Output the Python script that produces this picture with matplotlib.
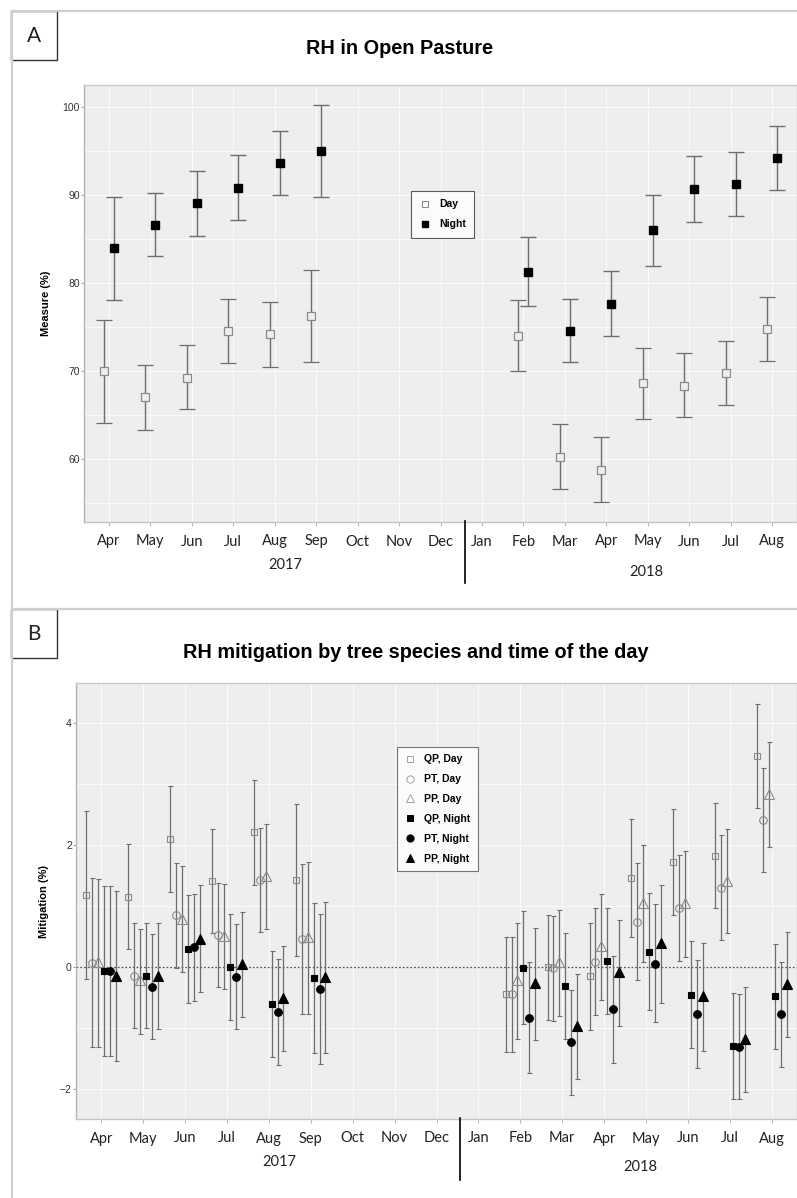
import numpy as np
import matplotlib
matplotlib.use("Agg")
import matplotlib.pyplot as plt
from matplotlib.lines import Line2D
from matplotlib.patches import Rectangle

nan = np.nan
W, H = 797, 1198

months = ["Apr", "May", "Jun", "Jul", "Aug", "Sep", "Oct", "Nov", "Dec",
          "Jan", "Feb", "Mar", "Apr", "May", "Jun", "Jul", "Aug"]
years = ["2017", "2018"]

# ---------------- Panel A: RH in open pasture ----------------
day_mean = [70.0, 67.0, 69.2, 74.5, 74.2, 76.25, nan, nan, nan, nan, 74.0, 60.2, 58.75, 68.6, 68.3, 69.7, 74.8]
day_low = [64.1, 63.3, 65.6, 70.9, 70.45, 71.0, nan, nan, nan, nan, 70.0, 56.6, 55.1, 64.5, 64.7, 66.1, 71.1]
day_high = [75.8, 70.6, 72.95, 78.2, 77.8, 81.5, nan, nan, nan, nan, 78.0, 63.9, 62.5, 72.6, 72.0, 73.4, 78.4]
night_mean = [84.0, 86.6, 89.1, 90.8, 93.6, 95.0, nan, nan, nan, nan, 81.25, 74.5, 77.6, 86.0, 90.7, 91.25, 94.2]
night_low = [78.1, 83.0, 85.3, 87.2, 90.0, 89.8, nan, nan, nan, nan, 77.4, 71.0, 74.0, 81.9, 86.9, 87.6, 90.6]
night_high = [89.8, 90.2, 92.7, 94.5, 97.3, 100.2, nan, nan, nan, nan, 85.2, 78.2, 81.4, 90.0, 94.4, 94.9, 97.8]

# ---------------- Panel B: mitigation ----------------
b_labels = ["QP, Day", "PT, Day", "PP, Day", "QP, Night", "PT, Night", "PP, Night"]
N4 = [nan] * 4
qp_day_mean = [1.18, 1.15, 2.1, 1.41, 2.21, 1.43] + N4 + [-0.44, 0.0, -0.15, 1.46, 1.72, 1.82, 3.46]
qp_day_low = [-0.2, 0.3, 1.23, 0.56, 1.34, 0.18] + N4 + [-1.39, -0.87, -1.03, 0.5, 0.85, 0.97, 2.61]
qp_day_high = [2.56, 2.02, 2.97, 2.26, 3.07, 2.67] + N4 + [0.49, 0.85, 0.72, 2.43, 2.59, 2.69, 4.31]
pt_day_mean = [0.07, -0.15, 0.85, 0.52, 1.43, 0.46] + N4 + [-0.44, -0.02, 0.09, 0.74, 0.97, 1.3, 2.41]
pt_day_low = [-1.31, -1.0, -0.02, -0.33, 0.57, -0.77] + N4 + [-1.39, -0.89, -0.79, -0.21, 0.1, 0.44, 1.56]
pt_day_high = [1.46, 0.72, 1.7, 1.38, 2.29, 1.69] + N4 + [0.5, 0.84, 0.97, 1.7, 1.84, 2.16, 3.26]
pp_day_mean = [0.08, -0.21, 0.79, 0.51, 1.49, 0.49] + N4 + [-0.21, 0.09, 0.34, 1.05, 1.05, 1.41, 2.84]
pp_day_low = [-1.31, -1.1, -0.08, -0.35, 0.62, -0.76] + N4 + [-1.17, -0.8, -0.54, 0.08, 0.16, 0.56, 1.97]
pp_day_high = [1.44, 0.62, 1.66, 1.36, 2.34, 1.72] + N4 + [0.72, 0.93, 1.2, 2.0, 1.9, 2.26, 3.69]
qp_night_mean = [-0.06, -0.14, 0.3, 0.0, -0.61, -0.18] + N4 + [-0.01, -0.31, 0.1, 0.25, -0.46, -1.3, -0.48]
qp_night_low = [-1.45, -1.0, -0.59, -0.87, -1.47, -1.41] + N4 + [-0.93, -1.17, -0.77, -0.7, -1.33, -2.16, -1.34]
qp_night_high = [1.33, 0.72, 1.18, 0.87, 0.26, 1.05] + N4 + [0.92, 0.56, 0.97, 1.21, 0.43, -0.43, 0.38]
pt_night_mean = [-0.07, -0.32, 0.33, -0.16, -0.74, -0.36] + N4 + [-0.83, -1.23, -0.69, 0.05, -0.77, -1.31, -0.77]
pt_night_low = [-1.46, -1.18, -0.55, -1.01, -1.61, -1.59] + N4 + [-1.74, -2.1, -1.57, -0.9, -1.66, -2.17, -1.64]
pt_night_high = [1.33, 0.54, 1.2, 0.7, 0.13, 0.87] + N4 + [0.09, -0.38, 0.18, 1.03, 0.11, -0.44, 0.09]
pp_night_mean = [-0.14, -0.14, 0.47, 0.05, -0.5, -0.16] + N4 + [-0.26, -0.97, -0.08, 0.39, -0.48, -1.18, -0.28]
pp_night_low = [-1.54, -1.02, -0.41, -0.82, -1.38, -1.41] + N4 + [-1.19, -1.84, -0.97, -0.59, -1.37, -2.04, -1.15]
pp_night_high = [1.25, 0.72, 1.34, 0.9, 0.35, 1.07] + N4 + [0.64, -0.12, 0.77, 1.34, 0.39, -0.33, 0.57]

# ---------------- figure ----------------
fig = plt.figure(figsize=(W / 100, H / 100), dpi=100)
fig.patch.set_facecolor("white")


def fx(x):
    return x / W


def fy(y):
    return 1 - y / H


def axes_px(l, t, r, b):
    return fig.add_axes([fx(l), fy(b), fx(r) - fx(l), fy(t) - fy(b)])


TICKFONT = ["Lato", "DejaVu Sans"]
SANS = ["Liberation Sans", "DejaVu Sans"]
BG = "#eeeeee"
ERRC = "#6e6e6e"
DAYC = "#8a8a8a"


def style_axes(ax):
    ax.set_facecolor(BG)
    for s in ax.spines.values():
        s.set_color("#c8c8c8")
        s.set_linewidth(1.0)
    ax.spines["left"].set_color("#b4b4b4")
    ax.spines["bottom"].set_color("#c4c4c4")
    ax.grid(True, which="both", color="#fafafa", linewidth=0.8)
    ax.set_axisbelow(True)
    ax.tick_params(axis="x", which="major", length=3, color="#bbbbbb", width=0.8, pad=6,
                   labelsize=10.5, labelcolor="#222222")
    ax.tick_params(axis="y", which="major", length=2, color="#888888", width=0.6, pad=1,
                   labelsize=7.5, labelcolor="#333333")
    ax.tick_params(axis="both", which="minor", length=0)
    for lab in ax.get_xticklabels():
        lab.set_family(TICKFONT)
    for lab in ax.get_yticklabels():
        lab.set_family(SANS)


x = np.arange(len(months))

# ---------------- Panel A ----------------
axA = axes_px(84, 85, 797, 522)
dm, dl, dh = map(np.array, (day_mean, day_low, day_high))
nm, nl, nh = map(np.array, (night_mean, night_low, night_high))
axA.errorbar(x - 0.12, dm, yerr=[dm - dl, dh - dm], fmt="s", ms=5.5, mfc=BG, mec=DAYC, mew=0.9,
             ecolor=ERRC, elinewidth=1.0, capsize=6, capthick=1.0, zorder=3)
axA.errorbar(x + 0.12, nm, yerr=[nm - nl, nh - nm], fmt="s", ms=5.5, mfc="black", mec="black",
             ecolor=ERRC, elinewidth=1.0, capsize=6, capthick=1.0, zorder=3)
axA.set_xlim(-0.6, 16.6)
axA.set_ylim(52.8, 102.5)
axA.set_xticks(x)
axA.set_xticklabels(months)
axA.set_yticks([60, 70, 80, 90, 100])
axA.set_yticks([55, 65, 75, 85, 95], minor=True)
style_axes(axA)
axA.set_ylabel("Measure (%)", fontsize=8, fontweight="bold", family=SANS, labelpad=8)
legA = [Line2D([], [], ls="none", marker="s", ms=5, mfc="white", mec=DAYC, mew=0.8),
        Line2D([], [], ls="none", marker="s", ms=5, mfc="black", mec="black")]
lg = axA.legend(legA, ["Day", "Night"], loc="upper left", bbox_to_anchor=(fx(411), fy(191)),
                bbox_transform=fig.transFigure, frameon=True, fancybox=False, edgecolor="#333333",
                prop={"family": SANS, "weight": "bold", "size": 7.5}, handlelength=1.1,
                handletextpad=0.8, borderpad=0.8, labelspacing=0.95, borderaxespad=0)
lg.get_frame().set_linewidth(0.8)

# ---------------- Panel B ----------------
axB = axes_px(76, 683, 797, 1119)
series = [
    (qp_day_mean, qp_day_low, qp_day_high, "s", 5.0, "none", DAYC),
    (pt_day_mean, pt_day_low, pt_day_high, "o", 5.5, "none", DAYC),
    (pp_day_mean, pp_day_low, pp_day_high, "^", 6.5, "none", DAYC),
    (qp_night_mean, qp_night_low, qp_night_high, "s", 5.0, "black", "black"),
    (pt_night_mean, pt_night_low, pt_night_high, "o", 5.5, "black", "black"),
    (pp_night_mean, pp_night_low, pp_night_high, "^", 6.5, "black", "black"),
]
offsets = np.array([-2.5, -1.5, -0.5, 0.5, 1.5, 2.5]) * 0.14
axB.axhline(0, color="#555555", lw=0.9, ls=(0, (1.5, 1.5)), zorder=2)
handles = []
for (m, lo, hi, mk, ms, fc, ec), off in zip(series, offsets):
    m, lo, hi = map(np.array, (m, lo, hi))
    axB.errorbar(x + off, m, yerr=[m - lo, hi - m], fmt=mk, ms=ms, mfc=fc, mec=ec, mew=0.8,
                 ecolor=ERRC, elinewidth=0.9, capsize=1.8, capthick=0.9, zorder=3)
    handles.append(Line2D([], [], ls="none", marker=mk, ms=ms - 0.3,
                          mfc=fc if fc != "none" else "white",
                          mec="#a0a0a0" if fc == "none" else ec, mew=0.7))
axB.set_xlim(-0.6, 16.6)
axB.set_ylim(-2.49, 4.66)
axB.set_xticks(x)
axB.set_xticklabels(months)
axB.set_yticks([-2, 0, 2, 4])
axB.set_yticks([-1, 1, 3], minor=True)
style_axes(axB)
axB.set_ylabel("Mitigation (%)", fontsize=8, fontweight="bold", family=SANS, labelpad=8)
lgB = axB.legend(handles, b_labels, loc="upper left", bbox_to_anchor=(fx(397), fy(747)),
                 bbox_transform=fig.transFigure, frameon=True, fancybox=False, edgecolor="#555555",
                 prop={"family": SANS, "weight": "bold", "size": 7.5}, handlelength=1.1,
                 handletextpad=0.8, borderpad=0.7, labelspacing=0.95, borderaxespad=0)
lgB.get_frame().set_linewidth(0.8)

# ---------------- titles, year labels, frames ----------------
fig.text(fx(399), fy(48), "RH in Open Pasture", ha="center", va="center", fontsize=14.3,
         fontweight="bold", family=SANS)
fig.text(fx(416), fy(653), "RH mitigation by tree species and time of the day", ha="center",
         va="center", fontsize=14.3, fontweight="bold", family=SANS)

for (xx, yy, t) in [(285, 565, years[0]), (646, 572, years[1]), (279, 1162, years[0]), (640, 1167, years[1])]:
    fig.text(fx(xx), fy(yy), t, ha="center", va="center", fontsize=10.5, family=TICKFONT, color="#222222")

fig.add_artist(Line2D([fx(465), fx(465)], [fy(521), fy(583)], color="black", lw=1.2))
fig.add_artist(Line2D([fx(460), fx(460)], [fy(1118), fy(1180)], color="black", lw=1.2))

frame_c = "#cfcfcf"
fig.add_artist(Line2D([fx(12), fx(12)], [fy(11), fy(1198)], color=frame_c, lw=1.6))
fig.add_artist(Line2D([fx(12), fx(797)], [fy(11), fy(11)], color=frame_c, lw=1.6))
fig.add_artist(Line2D([fx(12), fx(797)], [fy(609), fy(609)], color=frame_c, lw=1.6))

for (top, lab) in [(11, "A"), (609, "B")]:
    fig.add_artist(Rectangle((fx(11), fy(top + 49)), fx(57) - fx(11), fy(top) - fy(top + 49),
                             transform=fig.transFigure, facecolor="white", edgecolor="#333333", lw=1.0))
    fig.text(fx(34), fy(top + 25), lab, ha="center", va="center", fontsize=15, family=TICKFONT,
             color="#222222")

fig.savefig("out.png", dpi=100)
